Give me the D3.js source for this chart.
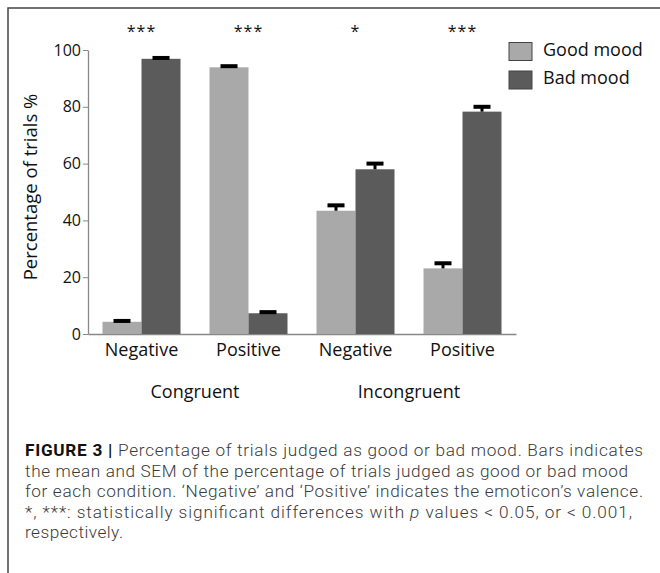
<!DOCTYPE html>
<html>
<head>
<meta charset="utf-8">
<title>Figure 3</title>
<script src="https://cdn.jsdelivr.net/npm/d3@7/dist/d3.min.js"></script>
<style>
  body { margin: 0; background: #fff; }
  svg text { font-family: "Open Sans", sans-serif; fill: #111; }
  svg text.cap { font-family: Roboto, "Liberation Sans", sans-serif; fill: #3a3a3a; font-weight: 300; }
</style>
</head>
<body>
<div id="chart"></div>
<script>
  // data
  var conditions = ['Congruent', 'Incongruent'];
  var valences = ['Negative', 'Positive', 'Negative', 'Positive'];
  var moods = ['Good mood', 'Bad mood'];
  var goodMean = [4.3, 93.9, 43.4, 23.1];
  var goodSem = [0.3, 0.4, 1.9, 1.8];
  var badMean = [96.9, 7.3, 58.0, 78.3];
  var badSem = [0.3, 0.4, 2.0, 1.7];
  var stars = ['***', '***', '*', '***'];
  var yTicks = [0, 20, 40, 60, 80, 100];
  var captionLines = [
    [['FIGURE 3 | ', 'b'], ['Percentage of trials judged as good or bad mood. Bars indicates', '']],
    [['the mean and SEM of the percentage of trials judged as good or bad mood', '']],
    [['for each condition. \u2018Negative\u2019 and \u2018Positive\u2019 indicates the emoticon\u2019s valence.', '']],
    [['*, ***: statistically significant differences with ', ''], ['p', 'i'], [' values < 0.05, or < 0.001,', '']],
    [['respectively.', '']]
  ];
  var captionWidths = [618, 603, 618, 607, 98];

  var colors = ['#a9a9a9', '#5b5b5b'];

  var svg = d3.select('#chart')
    .append('svg')
    .attr('width', 660)
    .attr('height', 573);

  // frame (only top and left edges show)
  svg.append('path')
    .attr('d', 'M8,573V8H660')
    .attr('fill', 'none')
    .attr('stroke', '#444')
    .attr('stroke-width', 1.5);

  var x0 = d3.scaleBand()
    .domain(d3.range(valences.length))
    .range([88, 516])
    .paddingInner(0.271)
    .paddingOuter(0.1355);

  var x1 = d3.scaleBand()
    .domain([0, 1])
    .range([0, x0.bandwidth()]);

  var y = d3.scaleLinear()
    .domain([0, 100])
    .range([334, 50]);

  // y axis
  var yAxis = svg.append('g')
    .attr('transform', 'translate(88,0)')
    .call(d3.axisLeft(y).tickValues(yTicks).tickSize(5).tickPadding(2).tickSizeOuter(0));
  yAxis.select('.domain').attr('stroke', '#888').attr('stroke-width', 1.3);
  yAxis.selectAll('.tick line').attr('stroke', '#888');
  yAxis.selectAll('.tick text')
    .attr('font-size', 16)
    .attr('font-family', '"Open Sans", sans-serif')
    .attr('fill', '#111');

  // x baseline
  var xAxis = svg.append('g')
    .attr('transform', 'translate(0,334)')
    .call(d3.axisBottom(x0).tickSize(0).tickFormat(''));
  xAxis.select('.domain').attr('stroke', '#888').attr('stroke-width', 1.3);

  var rows = valences.map(function (v, i) {
    return [
      { g: i, s: 0, mean: goodMean[i], sem: goodSem[i] },
      { g: i, s: 1, mean: badMean[i], sem: badSem[i] }
    ];
  });

  var groups = svg.selectAll('g.grp')
    .data(rows)
    .join('g')
    .attr('class', 'grp')
    .attr('transform', function (d, i) { return 'translate(' + x0(i) + ',0)'; });

  groups.selectAll('rect.bar')
    .data(function (d) { return d; })
    .join('rect')
    .attr('class', 'bar')
    .attr('x', function (d) { return x1(d.s); })
    .attr('width', x1.bandwidth())
    .attr('y', function (d) { return y(d.mean); })
    .attr('height', function (d) { return y(0) - y(d.mean); })
    .attr('fill', function (d) { return colors[d.s]; });

  // error bars: stem + thick cap
  groups.selectAll('line.err')
    .data(function (d) { return d; })
    .join('line')
    .attr('class', 'err')
    .attr('x1', function (d) { return x1(d.s) + x1.bandwidth() / 2; })
    .attr('x2', function (d) { return x1(d.s) + x1.bandwidth() / 2; })
    .attr('y1', function (d) { return y(d.mean); })
    .attr('y2', function (d) { return y(d.mean + d.sem); })
    .attr('stroke', '#000')
    .attr('stroke-width', 3);

  groups.selectAll('rect.cap')
    .data(function (d) { return d; })
    .join('rect')
    .attr('class', 'cap')
    .attr('x', function (d) { return x1(d.s) + x1.bandwidth() / 2 - 8.5; })
    .attr('width', 17)
    .attr('y', function (d) { return y(d.mean + d.sem) - 2; })
    .attr('height', 4)
    .attr('fill', '#000');

  // valence labels
  svg.selectAll('text.val')
    .data(valences)
    .join('text')
    .attr('class', 'val')
    .attr('x', function (d, i) { return x0(i) + x0.bandwidth() / 2; })
    .attr('y', 356)
    .attr('text-anchor', 'middle')
    .attr('font-size', 18)
    .text(function (d) { return d; });

  // condition labels
  svg.selectAll('text.cond')
    .data(conditions)
    .join('text')
    .attr('class', 'cond')
    .attr('x', function (d, i) {
      return (x0(2 * i) + x0(2 * i + 1) + x0.bandwidth()) / 2;
    })
    .attr('y', 398)
    .attr('text-anchor', 'middle')
    .attr('font-size', 18)
    .text(function (d) { return d; });

  // significance stars
  svg.selectAll('text.star')
    .data(stars)
    .join('text')
    .attr('class', 'star')
    .attr('x', function (d, i) { return x0(i) + x0.bandwidth() / 2; })
    .attr('y', 37)
    .attr('text-anchor', 'middle')
    .attr('font-size', 16)
    .attr('letter-spacing', 1)
    .text(function (d) { return d; });

  // y label
  svg.append('text')
    .attr('transform', 'translate(37,187) rotate(-90)')
    .attr('text-anchor', 'middle')
    .attr('font-size', 18.5)
    .text('Percentage of trials %');

  // legend
  var legend = svg.selectAll('g.leg')
    .data(moods)
    .join('g')
    .attr('class', 'leg')
    .attr('transform', function (d, i) { return 'translate(509,' + (42.5 + i * 28.5) + ')'; });
  legend.append('rect')
    .attr('width', 23)
    .attr('height', 18)
    .attr('fill', function (d, i) { return colors[i]; })
    .attr('stroke', '#444')
    .attr('stroke-width', 1);
  legend.append('text')
    .attr('x', 34)
    .attr('y', 13)
    .attr('font-size', 18)
    .text(function (d) { return d; });

  // caption
  var cap = svg.append('g');
  captionLines.forEach(function (parts, i) {
    var t = cap.append('text')
      .attr('class', 'cap')
      .attr('x', 25)
      .attr('y', 456 + i * 20.5)
      .attr('font-size', 17.2);
    if (captionWidths[i]) {
      t.attr('textLength', captionWidths[i]).attr('lengthAdjust', 'spacing');
    }
    parts.forEach(function (p) {
      var ts = t.append('tspan').text(p[0]);
      if (p[1] === 'b') ts.attr('font-weight', 700).style('fill', '#111');
      if (p[1] === 'i') ts.attr('font-style', 'italic');
    });
  });
</script>
</body>
</html>
